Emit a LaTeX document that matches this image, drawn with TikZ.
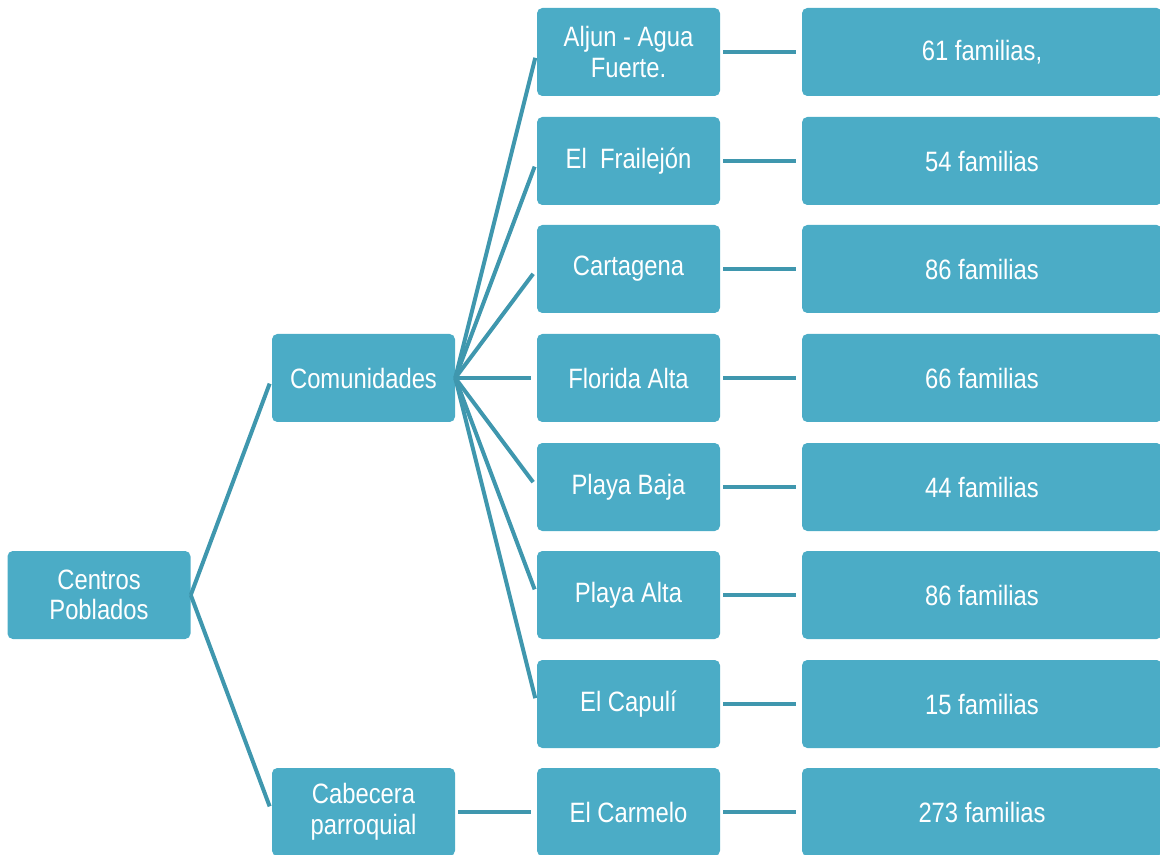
\documentclass[tikz,border=0pt]{standalone}
\usepackage{fontspec}
\setmainfont{Liberation Sans}[FakeStretch=0.85]
\definecolor{boxblue}{HTML}{4BACC6}
\definecolor{linkblue}{HTML}{3F97AE}
\tikzset{
  box/.style={fill=boxblue, rounded corners=4pt, text=white, align=center,
    minimum width=137.25pt, minimum height=66pt, inner sep=0pt,
    font=\fontsize{21}{23}\selectfont},
  wide/.style={box, minimum width=270pt},
  link/.style={draw=linkblue, line width=3pt, shorten >=4.5pt},
  flat/.style={link, shorten <=2.25pt}
}
\begin{document}
\begin{tikzpicture}[x=0.75pt,y=-0.75pt]
    \useasboundingbox (0,0) rectangle (1160,855);
    \clip (0,0) rectangle (1160,855);
    % root and branches
    \node[box] (centros) at (99,595) {Centros\\Poblados};
    \node[box] (comun) at (363.5,378) {Comunidades};
    \node[box] (cabec) at (363.5,812) {Cabecera\\parroquial};
    % places
    \node[box] (aljun) at (628.5,52) {Aljun - Agua\\Fuerte.};
    \node[box] (frail) at (628.5,161) {El~ Frailejón};
    \node[box] (carta) at (628.5,269) {Cartagena};
    \node[box] (flori) at (628.5,378) {Florida Alta};
    \node[box] (pbaja) at (628.5,487) {Playa Baja};
    \node[box] (palta) at (628.5,595) {Playa Alta};
    \node[box] (capul) at (628.5,704) {El Capulí};
    \node[box] (carme) at (628.5,812) {El Carmelo};
    % families
    \node[wide] (fam1) at (982,52) {61 familias,};
    \node[wide] (fam2) at (982,161) {54 familias};
    \node[wide] (fam3) at (982,269) {86 familias};
    \node[wide] (fam4) at (982,378) {66 familias};
    \node[wide] (fam5) at (982,487) {44 familias};
    \node[wide] (fam6) at (982,595) {86 familias};
    \node[wide] (fam7) at (982,704) {15 familias};
    \node[wide] (fam8) at (982,812) {273 familias};
    % links
    \draw[link] (centros.east) -- (comun.west);
    \draw[link] (centros.east) -- (cabec.west);
    \draw[link] (comun.east) -- (aljun.west);
    \draw[link] (comun.east) -- (frail.west);
    \draw[link] (comun.east) -- (carta.west);
    \draw[link] (comun.east) -- (flori.west);
    \draw[link] (comun.east) -- (pbaja.west);
    \draw[link] (comun.east) -- (palta.west);
    \draw[link] (comun.east) -- (capul.west);
    \draw[flat] (cabec) -- (carme);
    \draw[flat] (aljun) -- (fam1);
    \draw[flat] (frail) -- (fam2);
    \draw[flat] (carta) -- (fam3);
    \draw[flat] (flori) -- (fam4);
    \draw[flat] (pbaja) -- (fam5);
    \draw[flat] (palta) -- (fam6);
    \draw[flat] (capul) -- (fam7);
    \draw[flat] (carme) -- (fam8);
\end{tikzpicture}
\end{document}
